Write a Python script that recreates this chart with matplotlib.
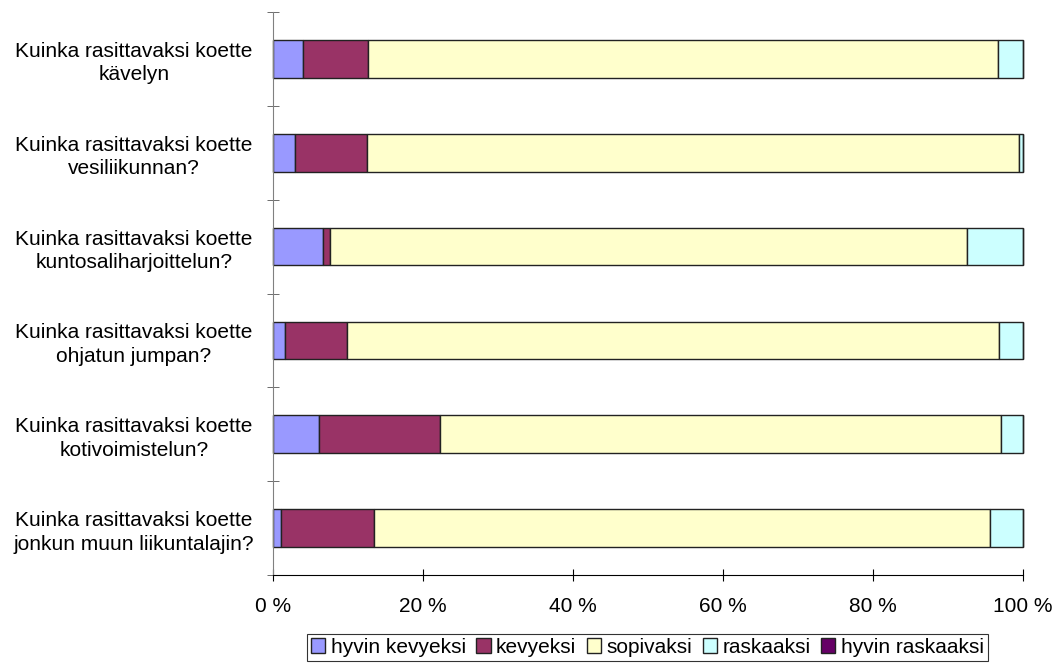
import numpy as np
import matplotlib.pyplot as plt

plt.rcParams['font.family'] = ['Liberation Sans', 'DejaVu Sans']

kysymykset = [
    "Kuinka rasittavaksi koette\nkävelyn",
    "Kuinka rasittavaksi koette\nvesiliikunnan?",
    "Kuinka rasittavaksi koette\nkuntosaliharjoittelun?",
    "Kuinka rasittavaksi koette\nohjatun jumpan?",
    "Kuinka rasittavaksi koette\nkotivoimistelun?",
    "Kuinka rasittavaksi koette\njonkun muun liikuntalajin?",
]
sarjat = ["hyvin kevyeksi", "kevyeksi", "sopivaksi", "raskaaksi", "hyvin raskaaksi"]
hyvin_kevyeksi = [4.0, 2.9, 6.6, 1.6, 6.1, 1.1]
kevyeksi = [8.6, 9.6, 1.0, 8.2, 16.1, 12.4]
sopivaksi = [84.0, 87.0, 84.9, 87.0, 74.9, 82.1]
raskaaksi = [3.4, 0.5, 7.5, 3.2, 2.9, 4.4]
hyvin_raskaaksi = [0, 0, 0, 0, 0, 0]
x_tikit = [0, 20, 40, 60, 80, 100]

varit = ["#9999FF", "#993366", "#FFFFCC", "#CCFFFF", "#660066"]
fs = 15

fig = plt.figure(figsize=(10.59, 6.66), dpi=100)
ax = fig.add_axes([273 / 1059, 1 - 575 / 666, 750 / 1059, 563 / 666])

y = np.arange(len(kysymykset))
vasen = np.zeros(len(kysymykset))
for nimi, arvot, vari in zip(sarjat, [hyvin_kevyeksi, kevyeksi, sopivaksi, raskaaksi, hyvin_raskaaksi], varit):
    arvot = np.array(arvot, dtype=float)
    ax.barh(y, arvot, left=vasen, height=0.4, color=vari, edgecolor="#222222",
            linewidth=1, label=nimi, clip_on=False)
    vasen += arvot

ax.set_xlim(0, 100)
ax.set_ylim(len(kysymykset) - 0.5, -0.5)
ax.set_yticks(y)
ax.set_yticklabels(kysymykset, fontsize=fs, ha="center", linespacing=1.3)
ax.tick_params(axis="y", length=0, pad=100)
ax.set_yticks(np.arange(-0.5, len(kysymykset)), minor=True)
ax.tick_params(axis="y", which="minor", length=8, direction="inout", color="#555555")

ax.set_xticks(x_tikit)
ax.set_xticklabels([f"{v} %" for v in x_tikit], fontsize=fs)
ax.tick_params(axis="x", length=8, direction="inout", pad=12)

ax.spines["top"].set_visible(False)
ax.spines["right"].set_visible(False)
ax.spines["left"].set_color("#808080")
ax.spines["bottom"].set_color("black")

leg = ax.legend(loc="upper center", bbox_to_anchor=(0.499, -0.104), ncol=5, frameon=True,
                fancybox=False, edgecolor="black", fontsize=fs, handlelength=0.7,
                handleheight=0.7, handletextpad=0.25, columnspacing=0.5,
                borderpad=0.2, borderaxespad=0)
leg.get_frame().set_linewidth(0.8)

fig.savefig("out.png", dpi=100)
